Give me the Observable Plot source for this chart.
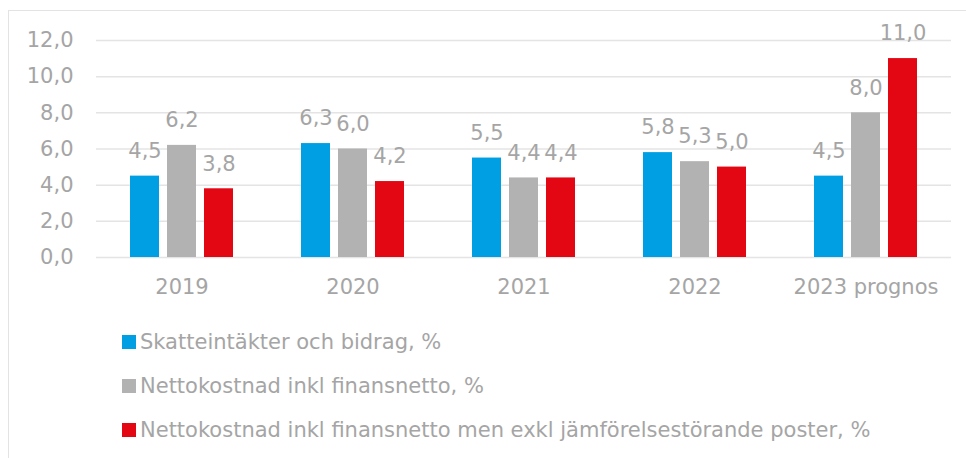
<!DOCTYPE html>
<html><head><meta charset="utf-8">
<script src="https://cdn.jsdelivr.net/npm/d3@7"></script>
<script src="https://cdn.jsdelivr.net/npm/@observablehq/plot@0.6"></script>
<style>
body{margin:0;background:#fff;font-family:"DejaVu Sans",Verdana,sans-serif;}
#wrap{position:relative;width:966px;height:458px;overflow:hidden;}
#frame{position:absolute;left:8px;top:10px;width:1000px;height:500px;border-left:1.5px solid #e3e3e3;border-top:1.5px solid #e3e3e3;}
#chart{position:absolute;left:0;top:0;}
#legend{position:absolute;left:122px;top:320px;color:#a5a5a5;font-size:21px;}
.row{display:flex;align-items:center;height:44px;white-space:nowrap;}
.sw{width:14px;height:14px;margin-right:4px;flex:none;}
</style></head>
<body>
<div id="wrap"><div id="frame"></div><div id="chart"></div><div id="legend"></div></div>
<script>
const years = ["2019", "2020", "2021", "2022", "2023 prognos"];
const seriesNames = ["Skatteintäkter och bidrag, %", "Nettokostnad inkl finansnetto, %", "Nettokostnad inkl finansnetto men exkl jämförelsestörande poster, %"];
const colors = ["#009fe3", "#b2b2b2", "#e30613"];
const skatteintakter = [4.5, 6.3, 5.5, 5.8, 4.5];
const nettokostnad = [6.2, 6.0, 4.4, 5.3, 8.0];
const nettokostnadExkl = [3.8, 4.2, 4.4, 5.0, 11.0];
const yTicks = [0, 2, 4, 6, 8, 10, 12];

const seriesValues = [skatteintakter, nettokostnad, nettokostnadExkl];
const table = [];
years.forEach((y, i) => seriesNames.forEach((s, j) => table.push({year: y, series: s, value: seriesValues[j][i]})));
const fmt = d => d.toFixed(1).replace(".", ",");

const chart = Plot.plot({
  width: 966, height: 310,
  marginLeft: 95, marginRight: 15, marginTop: 40, marginBottom: 53,
  style: {fontFamily: "DejaVu Sans, Verdana, sans-serif", fontSize: "21px", color: "#a5a5a5", background: "transparent"},
  fx: {domain: years, padding: 0, label: null, axis: "bottom", tickSize: 0, tickPadding: 22},
  x: {domain: seriesNames, paddingInner: 0.21, paddingOuter: 0.858, axis: null},
  y: {domain: [0, 12], axis: null},
  color: {domain: seriesNames, range: colors},
  marks: [
    Plot.ruleY(yTicks, {stroke: "#e4e4e4", strokeWidth: 1.5}),
    Plot.axisY(yTicks, {tickSize: 0, tickPadding: 23, tickFormat: fmt, fill: "#a5a5a5", label: null}),
    Plot.barY(table, {fx: "year", x: "series", y: "value", fill: "series"}),
    Plot.text(table, {fx: "year", x: "series", y: "value", text: d => fmt(d.value), dy: -25, fill: "#a5a5a5"})
  ]
});
document.getElementById("chart").appendChild(chart);

const legend = document.getElementById("legend");
seriesNames.forEach((s, j) => {
  const row = document.createElement("div");
  row.className = "row";
  const sw = document.createElement("div");
  sw.className = "sw";
  sw.style.background = colors[j];
  const t = document.createElement("span");
  t.textContent = s;
  row.appendChild(sw); row.appendChild(t);
  legend.appendChild(row);
});
</script>
</body></html>
